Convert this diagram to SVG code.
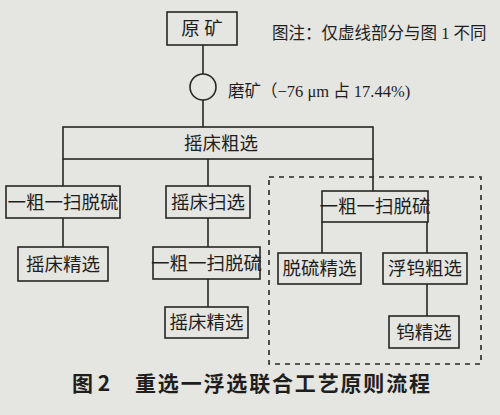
<svg xmlns="http://www.w3.org/2000/svg" width="500" height="415" viewBox="0 0 500 415">
<style>
.bx{fill:none;stroke:#262626;stroke-width:1.6}
.ln{stroke:#262626;stroke-width:1.6;fill:none}
.t{font-family:"Liberation Serif","Noto Sans CJK SC",serif;font-size:18.5px;fill:#1e1e1e;text-anchor:middle}
.n{font-family:"Liberation Serif","Noto Sans CJK SC",serif;font-size:16.5px;fill:#1e1e1e}
.cap{font-family:"Noto Sans CJK SC",sans-serif;font-size:21px;font-weight:bold;fill:#1e1e1e}
</style>
<rect width="500" height="415" fill="#e5e5e1"/>
<g id="connectors">
<line class="ln" x1="203" y1="45" x2="203" y2="74"/>
<line class="ln" x1="203" y1="100" x2="203" y2="127"/>
<line class="ln" x1="63" y1="159" x2="63" y2="186"/>
<line class="ln" x1="208" y1="159" x2="208" y2="186"/>
<line class="ln" x1="373" y1="159" x2="373" y2="191"/>
<line class="ln" x1="63" y1="218" x2="63" y2="247"/>
<line class="ln" x1="208" y1="218" x2="208" y2="247"/>
<line class="ln" x1="208" y1="279" x2="208" y2="307"/>
<line class="ln" x1="322" y1="222" x2="322" y2="253"/>
<line class="ln" x1="427" y1="222" x2="427" y2="253"/>
<line class="ln" x1="427" y1="284" x2="427" y2="316"/>
</g>
<g id="dashed-region">
<rect x="269" y="177" width="212" height="187" fill="none" stroke="#262626" stroke-width="1.6" stroke-dasharray="5 5"/>
</g>
<g id="n-yuankuang"><rect class="bx" x="167" y="12" width="70" height="33"/><text class="t" x="202" y="35">原 矿</text></g>
<g id="note"><text class="n" x="272" y="39">图注：仅虚线部分与图 1 不同</text></g>
<g id="n-mokuang"><circle class="bx" cx="203" cy="87" r="13"/><text class="n" x="228" y="97">磨矿（−76 μm 占 17.44%)</text></g>
<g id="n-cuxuan"><rect class="bx" x="63" y="127" width="310" height="32"/><text class="t" x="221" y="150">摇床粗选</text></g>
<g id="n-left1"><rect class="bx" x="6" y="186" width="114" height="32"/><text class="t" x="63" y="209">一粗一扫脱硫</text></g>
<g id="n-left2"><rect class="bx" x="18" y="247" width="90" height="34"/><text class="t" x="63" y="271">摇床精选</text></g>
<g id="n-mid1"><rect class="bx" x="166" y="186" width="84" height="32"/><text class="t" x="208" y="209">摇床扫选</text></g>
<g id="n-mid2"><rect class="bx" x="153" y="247" width="107" height="32"/><text class="t" x="206.5" y="270">一粗一扫脱硫</text></g>
<g id="n-mid3"><rect class="bx" x="165" y="307" width="83" height="31"/><text class="t" x="206.5" y="329">摇床精选</text></g>
<g id="n-right1"><rect class="bx" x="322" y="191" width="106" height="31"/><text class="t" x="375" y="213">一粗一扫脱硫</text></g>
<g id="n-right2"><rect class="bx" x="278" y="253" width="83" height="31"/><text class="t" x="319.5" y="275">脱硫精选</text></g>
<g id="n-right3"><rect class="bx" x="383" y="253" width="84" height="31"/><text class="t" x="425" y="275">浮钨粗选</text></g>
<g id="n-right4"><rect class="bx" x="389" y="316" width="70" height="32"/><text class="t" x="424" y="339">钨精选</text></g>
<g id="caption"><text class="cap" x="72" y="391">图 2</text><text class="cap" x="135" y="391" textLength="295">重选一浮选联合工艺原则流程</text></g>
</svg>
